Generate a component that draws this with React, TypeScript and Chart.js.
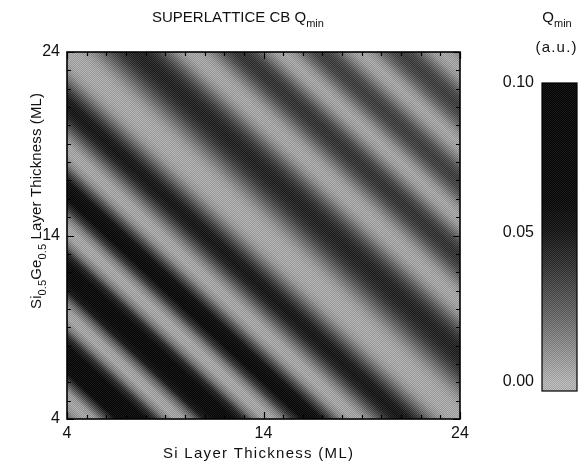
import React, { useEffect, useRef } from "react";
import { Chart, registerables } from "chart.js";
Chart.register(...registerables);

// ---------- data ----------
const axisMin = 4;
const axisMax = 24;
const siTicks = [4, 14, 24];
const sigeTicks = [4, 14, 24];
const qTicks = [0, 0.05, 0.1];

// total superlattice period (Si + SiGe, ML) along which the stripes run
const totalThickness = [
  8.0, 8.5, 9.0, 9.5, 10.0, 10.5, 11.0, 11.5, 12.0, 12.5, 13.0, 13.5, 14.0, 14.5,
  15.0, 15.5, 16.0, 16.5, 17.0, 17.5, 18.0, 18.5, 19.0, 19.5, 20.0, 20.5, 21.0,
  21.5, 22.0, 22.5, 23.0, 23.5, 24.0, 24.5, 25.0, 25.5, 26.0, 26.5, 27.0, 27.5,
  28.0, 28.5, 29.0, 29.5, 30.0, 30.5, 31.0, 31.5, 32.0, 32.5, 33.0, 33.5, 34.0,
  34.5, 35.0, 35.5, 36.0, 36.5, 37.0, 37.5, 38.0, 38.5, 39.0, 39.5, 40.0, 40.5,
  41.0, 41.5, 42.0, 42.5, 43.0, 43.5, 44.0, 44.5, 45.0, 45.5, 46.0, 46.5, 47.0,
  47.5, 48.0,
];
// Q_min (a.u.) read along the stripes
const qMinProfile = [
  0.025, 0.010, 0.004, 0.008, 0.030, 0.060, 0.085, 0.090, 0.072, 0.042, 0.016, 0.004,
  0.006, 0.022, 0.050, 0.074, 0.082, 0.070, 0.045, 0.018, 0.005, 0.004, 0.015, 0.038,
  0.060, 0.066, 0.055, 0.032, 0.012, 0.004, 0.005, 0.015, 0.030, 0.045, 0.052, 0.048,
  0.035, 0.020, 0.009, 0.004, 0.003, 0.004, 0.008, 0.016, 0.026, 0.036, 0.043, 0.046,
  0.044, 0.036, 0.024, 0.012, 0.005, 0.004, 0.008, 0.018, 0.030, 0.038, 0.039, 0.032,
  0.018, 0.007, 0.004, 0.010, 0.022, 0.033, 0.036, 0.030, 0.017, 0.007, 0.004, 0.010,
  0.022, 0.032, 0.036, 0.032, 0.020, 0.009, 0.004, 0.006, 0.015,
];

// colour map: value -> grey level
const grayStops: [number, number][] = [
  [0, 186], [0.01, 150], [0.02, 112], [0.03, 78], [0.04, 46], [0.05, 20], [0.06, 6], [0.1, 3],
];

const FONT = '"Liberation Sans", Arial, Helvetica, sans-serif';

function grayFor(v: number): string {
  if (v <= grayStops[0][0]) {
    const g = grayStops[0][1];
    return `rgb(${g},${g},${g})`;
  }
  for (let i = 1; i < grayStops.length; i++) {
    if (v <= grayStops[i][0]) {
      const [v0, g0] = grayStops[i - 1];
      const [v1, g1] = grayStops[i];
      const g = Math.round(g0 + ((g1 - g0) * (v - v0)) / (v1 - v0));
      return `rgb(${g},${g},${g})`;
    }
  }
  const g = grayStops[grayStops.length - 1][1];
  return `rgb(${g},${g},${g})`;
}

type Part = { t: string; sub?: boolean };

function drawRich(
  ctx: CanvasRenderingContext2D,
  parts: Part[],
  x: number,
  y: number,
  size: number,
  subSize: number,
  targetWidth?: number
) {
  ctx.save();
  const widths = parts.map((p) => {
    ctx.font = `${p.sub ? subSize : size}px ${FONT}`;
    return ctx.measureText(p.t).width;
  });
  const nChars = parts.reduce((a, p) => a + p.t.length, 0);
  let total = widths.reduce((a, b) => a + b, 0);
  let spacing = 0;
  if (targetWidth && nChars > 1) {
    spacing = Math.max(0, (targetWidth - total) / (nChars - 1));
    total = targetWidth;
  }
  let cx = x - total / 2;
  ctx.textBaseline = "alphabetic";
  ctx.textAlign = "left";
  ctx.fillStyle = "#111";
  parts.forEach((p) => {
    ctx.font = `${p.sub ? subSize : size}px ${FONT}`;
    for (const ch of p.t) {
      ctx.fillText(ch, cx, y + (p.sub ? size * 0.3 : 0));
      cx += ctx.measureText(ch).width + spacing;
    }
  });
  ctx.restore();
}

function texture(ctx: CanvasRenderingContext2D, x: number, y: number, w: number, h: number) {
  const pc = document.createElement("canvas");
  pc.width = 2;
  pc.height = 2;
  const pctx = pc.getContext("2d")!;
  pctx.fillStyle = "rgba(255,255,255,0.09)";
  pctx.fillRect(0, 0, 1, 1);
  pctx.fillRect(1, 1, 1, 1);
  pctx.fillStyle = "rgba(0,0,0,0.12)";
  pctx.fillRect(1, 0, 1, 1);
  pctx.fillRect(0, 1, 1, 1);
  const pat = ctx.createPattern(pc, "repeat");
  if (pat) {
    ctx.fillStyle = pat;
    ctx.fillRect(x, y, w, h);
  }
}

const heatPlugin = {
  id: "heatmap",
  beforeDatasetsDraw(chart: any) {
    const { ctx, chartArea: a, scales } = chart;
    const xs = scales.x;
    const ys = scales.y;
    const kx = xs.getPixelForValue(axisMin + 1) - xs.getPixelForValue(axisMin);
    const ky = ys.getPixelForValue(axisMin) - ys.getPixelForValue(axisMin + 1);
    const s0 = totalThickness[0];
    const s1 = totalThickness[totalThickness.length - 1];
    const p0x = xs.getPixelForValue(axisMin);
    const p0y = ys.getPixelForValue(s0 - axisMin);
    const gx = 1 / kx;
    const gy = -1 / ky;
    const lam = (s1 - s0) / (gx * gx + gy * gy);
    const grad = ctx.createLinearGradient(p0x, p0y, p0x + gx * lam, p0y + gy * lam);
    totalThickness.forEach((s: number, i: number) => {
      grad.addColorStop((s - s0) / (s1 - s0), grayFor(qMinProfile[i]));
    });
    ctx.save();
    ctx.fillStyle = grad;
    ctx.fillRect(a.left, a.top, a.right - a.left, a.bottom - a.top);
    texture(ctx, a.left, a.top, a.right - a.left, a.bottom - a.top);
    ctx.restore();
  },
  afterDraw(chart: any) {
    const { ctx, chartArea: a, scales } = chart;
    const xs = scales.x;
    const ys = scales.y;
    ctx.save();
    ctx.strokeStyle = "#000";
    ctx.lineWidth = 1.2;
    for (let v = axisMin; v <= axisMax; v++) {
      const major = siTicks.includes(v);
      const len = major ? 7 : 4;
      const px = Math.round(xs.getPixelForValue(v)) + 0.5;
      const py = Math.round(ys.getPixelForValue(v)) + 0.5;
      ctx.beginPath();
      ctx.moveTo(px, a.bottom);
      ctx.lineTo(px, a.bottom - len);
      ctx.moveTo(px, a.top);
      ctx.lineTo(px, a.top + len);
      ctx.moveTo(a.left, py);
      ctx.lineTo(a.left + len, py);
      ctx.moveTo(a.right, py);
      ctx.lineTo(a.right - len, py);
      ctx.stroke();
    }
    ctx.lineWidth = 1.6;
    ctx.strokeRect(a.left, a.top, a.right - a.left, a.bottom - a.top);
    ctx.restore();

    drawRich(ctx, [{ t: "SUPERLATTICE CB Q" }, { t: "min", sub: true }], 236, 22, 15, 11, 168);
    drawRich(ctx, [{ t: "Si Layer Thickness (ML)" }], 258, 458, 15, 11, 190);
    ctx.save();
    ctx.translate(41, 201);
    ctx.rotate(-Math.PI / 2);
    drawRich(
      ctx,
      [
        { t: "Si" },
        { t: "0.5", sub: true },
        { t: "Ge" },
        { t: "0.5", sub: true },
        { t: " Layer Thickness (ML)" },
      ],
      0,
      0,
      15,
      11,
      216
    );
    ctx.restore();
  },
};

const colorbarPlugin = {
  id: "colorbar",
  beforeDatasetsDraw(chart: any) {
    const { ctx, chartArea: a, scales } = chart;
    const ys = scales.y;
    const vMin = ys.min;
    const vMax = ys.max;
    const grad = ctx.createLinearGradient(0, ys.getPixelForValue(vMin), 0, ys.getPixelForValue(vMax));
    for (let i = 0; i <= 100; i++) {
      const v = vMin + ((vMax - vMin) * i) / 100;
      grad.addColorStop(i / 100, grayFor(Math.max(0, v)));
    }
    ctx.save();
    ctx.fillStyle = grad;
    ctx.fillRect(a.left, a.top, a.right - a.left, a.bottom - a.top);
    texture(ctx, a.left, a.top, a.right - a.left, a.bottom - a.top);
    ctx.strokeStyle = "#000";
    ctx.lineWidth = 1.2;
    ctx.strokeRect(a.left, a.top, a.right - a.left, a.bottom - a.top);
    ctx.restore();
  },
  afterDraw(chart: any) {
    const { ctx } = chart;
    drawRich(ctx, [{ t: "Q" }, { t: "min", sub: true }], 557 - 480, 22, 15, 11);
    drawRich(ctx, [{ t: "(a.u.)" }], 556 - 480, 52, 15, 11, 41);
  },
};

export default function App() {
  const mainRef = useRef<HTMLCanvasElement>(null);
  const cbRef = useRef<HTMLCanvasElement>(null);

  useEffect(() => {
    const tickFont = { family: FONT, size: 16 };
    const main = new Chart(mainRef.current!, {
      type: "scatter",
      data: { datasets: [{ data: [], pointRadius: 0 }] },
      options: {
        animation: false,
        responsive: false,
        devicePixelRatio: 1,
        layout: { padding: { left: 0, right: 119, top: 52, bottom: 20 } },
        plugins: { legend: { display: false }, tooltip: { enabled: false }, title: { display: false } },
        scales: {
          x: {
            type: "linear",
            min: axisMin,
            max: axisMax,
            afterBuildTicks: (s: any) => {
              s.ticks = siTicks.map((v) => ({ value: v }));
            },
            afterFit: (s: any) => {
              s.height = 30;
            },
            ticks: { font: tickFont, color: "#111", padding: 5, maxRotation: 0, autoSkip: false },
            grid: { display: false, drawTicks: false },
            border: { display: false },
          },
          y: {
            type: "linear",
            min: axisMin,
            max: axisMax,
            afterBuildTicks: (s: any) => {
              s.ticks = sigeTicks.map((v) => ({ value: v }));
            },
            afterFit: (s: any) => {
              s.width = 67;
            },
            ticks: { font: tickFont, color: "#111", padding: 7, autoSkip: false },
            grid: { display: false, drawTicks: false },
            border: { display: false },
          },
        },
      },
      plugins: [heatPlugin],
    } as any);

    const cb = new Chart(cbRef.current!, {
      type: "scatter",
      data: { datasets: [{ data: [], pointRadius: 0 }] },
      options: {
        animation: false,
        responsive: false,
        devicePixelRatio: 1,
        layout: { padding: { left: 0, right: 2, top: 83, bottom: 78 } },
        plugins: { legend: { display: false }, tooltip: { enabled: false } },
        scales: {
          x: { type: "linear", display: false, min: 0, max: 1 },
          y: {
            type: "linear",
            min: -0.003,
            max: 0.1,
            afterBuildTicks: (s: any) => {
              s.ticks = qTicks.map((v) => ({ value: v }));
            },
            afterFit: (s: any) => {
              s.width = 62;
            },
            ticks: {
              font: tickFont,
              color: "#111",
              padding: 8,
              autoSkip: false,
              callback: (v: any) => Number(v).toFixed(2),
            },
            grid: { display: false, drawTicks: false },
            border: { display: false },
          },
        },
      },
      plugins: [colorbarPlugin],
    } as any);

    return () => {
      main.destroy();
      cb.destroy();
    };
  }, []);

  return (
    <div style={{ position: "absolute", left: 0, top: 0, width: 579, height: 469, background: "#fff" }}>
      <canvas
        ref={mainRef}
        width={579}
        height={469}
        style={{ position: "absolute", left: 0, top: 0, width: 579, height: 469 }}
      />
      <canvas
        ref={cbRef}
        width={99}
        height={469}
        style={{ position: "absolute", left: 480, top: 0, width: 99, height: 469 }}
      />
    </div>
  );
}
